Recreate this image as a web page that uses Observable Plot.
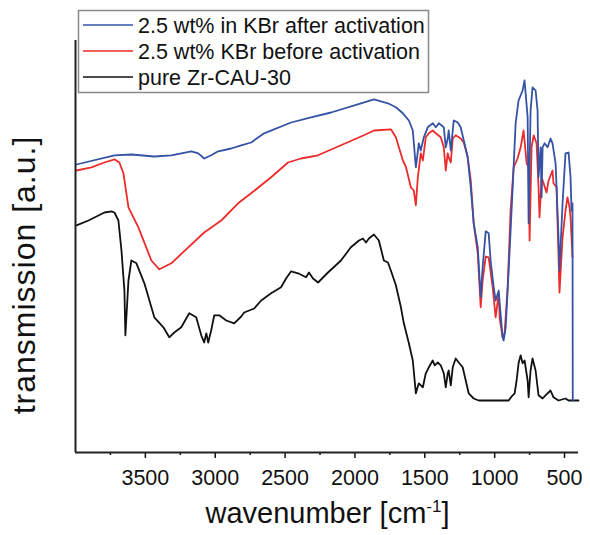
<!DOCTYPE html>
<html><head><meta charset="utf-8">
<script src="https://cdn.jsdelivr.net/npm/d3@7"></script>
<script src="https://cdn.jsdelivr.net/npm/@observablehq/plot@0.6"></script>
<style>
body{margin:0;background:#fff;}
svg{font-family:"Liberation Sans",Arial,sans-serif;}
</style>
</head><body>
<div id="chart"></div>
<script>
// legend labels and colours
const seriesNames = ["2.5 wt% in KBr after activation", "2.5 wt% KBr before activation", "pure Zr-CAU-30"];
const seriesColors = ["#3553a6", "#ee2b2b", "#111111"];
const xTicks = [3500, 3000, 2500, 2000, 1500, 1000, 500];
const xMinorTicks = [3750, 3250, 2750, 2250, 1750, 1250, 750];

// [wavenumber cm-1, transmission a.u.]
const afterActivation = [
[3993,72],[3721,74.3],[3600,74.5],[3436,74],[3314,74.3],[3171,75.3],[3121,74.8],[3079,73.5],[3029,74.3],[2979,75.3],
[2886,76],[2814,76.8],[2743,77.5],[2650,79.8],[2457,82.5],[2314,83.8],[2171,85],[1957,87.3],[1864,88.3],[1764,87.3],
[1707,86.3],[1657,84.8],[1614,83],[1586,80.5],[1564,71.3],[1543,77.3],[1529,75.5],[1507,78.8],[1479,81.3],[1443,82.3],
[1421,81.3],[1400,82.3],[1364,81.3],[1350,76.3],[1336,78.5],[1329,80.5],[1314,75.5],[1293,83],[1264,82.5],[1243,81.3],
[1221,78],[1193,73.8],[1171,66.3],[1150,57.3],[1121,51.3],[1100,38.8],[1086,46.3],[1064,55.3],[1043,54.8],[1029,48],
[1007,41.3],[993,38],[971,40.5],[964,37.3],[943,28.8],[936,28],[921,31.3],[900,45.5],[871,66.3],[850,82.3],
[829,88],[800,90.5],[786,93],[764,83.8],[757,57.3],[743,85.5],[729,91.3],[707,90.5],[693,85.5],[686,68.8],
[671,76.3],[664,63.8],[657,76.3],[643,77.3],[621,76.3],[600,78.5],[586,77.3],[564,72.3],[543,53.8],[536,45.5],
[514,62.3],[493,74.8],[471,75],[457,68.8],[450,60.5],[443,62.3],[441,13]
];
const beforeActivation = [
[3993,70.5],[3886,71.3],[3793,72.5],[3721,73.3],[3686,72.5],[3657,69.8],[3621,61.3],[3550,56.3],[3457,48],[3400,45.8],
[3314,47.3],[3193,51.3],[3079,55],[2957,58],[2836,62.3],[2743,64.8],[2600,68.8],[2479,72.5],[2386,73.5],[2264,74.3],
[2100,76.8],[1936,79.3],[1864,80.5],[1743,80.8],[1707,78.8],[1657,73],[1636,71.5],[1600,66.3],[1579,65.5],[1564,61.8],
[1550,68.8],[1529,74.8],[1514,73],[1493,78.8],[1471,79.8],[1443,80.5],[1421,79.8],[1386,78.8],[1364,76.3],[1350,70.5],
[1336,74.8],[1329,73.8],[1314,72.5],[1300,78.5],[1279,79.3],[1243,78.5],[1221,77.5],[1193,73.8],[1171,68],[1150,57.3],
[1121,49.8],[1100,36.3],[1086,43],[1064,49],[1043,48.8],[1014,41.3],[993,33.8],[971,39.8],[964,33.5],[943,28.8],
[929,29.8],[907,41.3],[886,60.5],[864,71.3],[836,73.5],[814,76.3],[793,80.5],[771,72.3],[757,71.3],[750,53],
[736,76.3],[721,79.3],[700,77.3],[686,66.3],[679,58.8],[664,68.8],[650,67.3],[629,65],[614,68],[586,70.5],
[579,67.3],[557,66.3],[543,48.8],[536,40],[514,53.8],[493,60.5],[479,63.8],[464,61.3],[457,58.8],[443,48.8]
];
const pureZrCAU30 = [
[3993,56.8],[3907,58],[3793,60],[3743,60.3],[3721,60],[3693,58],[3671,50.5],[3650,40.5],[3643,29.3],[3621,43],
[3600,48],[3564,47.3],[3507,42.3],[3436,33.8],[3371,31.3],[3329,28.8],[3293,30],[3243,31.3],[3186,34.8],[3136,33.8],
[3100,29.3],[3079,27.5],[3064,29.8],[3050,27.5],[3029,30.5],[3007,34.3],[2971,34.3],[2921,33],[2864,32.3],[2814,34],
[2793,35],[2721,36],[2671,38],[2600,39.8],[2529,41.3],[2493,43.5],[2457,45.3],[2407,44.8],[2350,43.8],[2329,45],
[2300,43.5],[2264,42.5],[2193,45],[2100,48],[2029,51.3],[1971,53],[1943,53.5],[1921,52.5],[1900,53.5],[1864,54.5],
[1829,53],[1793,48],[1764,47.5],[1743,45.5],[1707,41.8],[1671,36.3],[1650,32.3],[1614,27.3],[1586,23],[1564,14.8],
[1543,17.3],[1514,16.3],[1493,19.8],[1471,21.3],[1443,23],[1429,21.8],[1407,22.5],[1386,21.8],[1364,19.8],[1350,16.3],
[1336,19.8],[1329,20.5],[1314,16.8],[1300,21.3],[1279,23.5],[1257,22.5],[1229,21.3],[1207,18],[1186,14.8],[1150,13.5],
[1114,13],[900,13],[871,14.3],[857,14.8],[843,18],[829,22.3],[814,24.3],[800,22.3],[786,23],[764,18],
[757,13.8],[743,20.5],[729,23.5],[707,20.5],[686,14.3],[657,13.5],[636,14.3],[600,15.5],[579,13.8],[543,13],
[493,13.5],[471,13],[400,13]
];

const toRows = (arr) => arr.map(([wn, t]) => ({wn, t}));
const W = 590, H = 535;
const mL = 75, mR = 12, mT = 40, mB = 83;

const plot = Plot.plot({
  width: W, height: H,
  marginLeft: mL, marginRight: mR, marginTop: mT, marginBottom: mB,
  style: {background: "#fff", fontFamily: '"Liberation Sans", Arial, sans-serif', color: "#111", overflow: "visible"},
  x: {domain: [4000, 400]},
  y: {domain: [0, 103], axis: null},
  marks: [
    Plot.line(toRows(pureZrCAU30), {x: "wn", y: "t", stroke: seriesColors[2], strokeWidth: 1.8}),
    Plot.line(toRows(beforeActivation), {x: "wn", y: "t", stroke: seriesColors[1], strokeWidth: 1.8}),
    Plot.line(toRows(afterActivation), {x: "wn", y: "t", stroke: seriesColors[0], strokeWidth: 1.8}),
    Plot.axisX({ticks: xMinorTicks, tickSize: 3, text: null, strokeWidth: 1.5, label: null}),
    Plot.axisX({ticks: xTicks, tickSize: 6, tickPadding: 11, fontSize: 21.5, strokeWidth: 1.5, label: null, tickFormat: d => String(d)}),
    Plot.ruleY([0], {stroke: "#222", strokeWidth: 2}),
    Plot.ruleX([4000], {stroke: "#222", strokeWidth: 2})
  ]
});
document.getElementById("chart").appendChild(plot);

const svg = d3.select(plot);
// x title
const xt = svg.append("text").attr("x", (mL + W - mR) / 2 + 1).attr("y", 523)
  .attr("text-anchor", "middle").attr("fill", "#111").style("font-size", "29px");
xt.append("tspan").text("wavenumber [cm");
xt.append("tspan").attr("dy", -11).style("font-size", "17px").text("-1");
xt.append("tspan").attr("dy", 11).text("]");
// y title
svg.append("text").attr("transform", "translate(35,275) rotate(-90)")
  .attr("text-anchor", "middle").attr("fill", "#111").style("font-size", "32px")
  .style("letter-spacing", "1px")
  .text("transmission [a.u.]");
// legend
const lg = svg.append("g").attr("text-anchor", "start");
lg.append("rect").attr("x", 78.5).attr("y", 10.5).attr("width", 350).attr("height", 82)
  .attr("fill", "#fff").attr("stroke", "#8a8a8a").attr("stroke-width", 1.5);
seriesNames.forEach((name, i) => {
  const yy = 25 + i * 26;
  lg.append("line").attr("x1", 83).attr("x2", 133).attr("y1", yy).attr("y2", yy)
    .attr("stroke", seriesColors[i]).attr("stroke-width", 1.6);
  lg.append("text").attr("x", 138).attr("y", yy + 8).attr("fill", "#111")
    .attr("text-anchor", "start")
    .style("font-size", "21.5px").text(name);
});
</script>
</body></html>
